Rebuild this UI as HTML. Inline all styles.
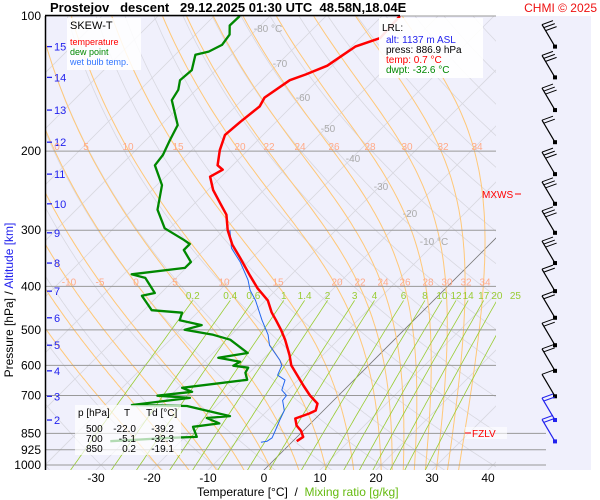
<!DOCTYPE html>
<html><head><meta charset="utf-8">
<style>
body{margin:0;background:#fff;}
svg{display:block;font-family:"Liberation Sans",sans-serif;}
</style></head>
<body>
<svg id="chart" width="600" height="500" viewBox="0 0 600 500" xmlns="http://www.w3.org/2000/svg">
<rect x="46" y="16" width="545" height="454" fill="#f0f0fc"/>
<g id="bg"></g>
<g id="series"></g>
<g id="wind"></g>
<g id="ann"></g>
<line x1="45" y1="15.5" x2="400" y2="15.5" stroke="#000" stroke-width="1.5"/>
<line x1="45.5" y1="16" x2="45.5" y2="470" stroke="#000" stroke-width="1.5"/>
<text x="50" y="12" font-size="13" font-weight="bold" fill="#000" xml:space="preserve">Prostejov   descent   29.12.2025 01:30 UTC  48.58N,18.04E</text>
<text x="597" y="12" font-size="12" fill="#ee1111" text-anchor="end">CHMI © 2025</text>
<g transform="translate(13,300) rotate(-90)">
<text x="0" y="0" font-size="12" text-anchor="middle"><tspan fill="#000">Pressure [hPa]  /  </tspan><tspan fill="#2222ee">Altitude [km]</tspan></text>
</g>
<text x="197" y="496" font-size="12" fill="#000" xml:space="preserve">Temperature [°C]  /  <tspan fill="#66bb11">Mixing ratio [g/kg]</tspan></text>
<rect x="67" y="18" width="74" height="52" fill="#fff" opacity="0.85"/>
<text x="70" y="29" font-size="11">SKEW-T</text>
<text x="70" y="45" font-size="9" fill="#ff0000">temperature</text>
<text x="70" y="55" font-size="9" fill="#008800">dew point</text>
<text x="70" y="65" font-size="9" fill="#3377ff">wet bulb temp.</text>
<rect x="379" y="18" width="104" height="60" fill="#fff" opacity="0.9"/>
<text x="382" y="31" font-size="10">LRL:</text>
<text x="386" y="43" font-size="10" fill="#2222ee">alt: 1137 m ASL</text>
<text x="386" y="53" font-size="10">press: 886.9 hPa</text>
<text x="386" y="63" font-size="10" fill="#ff0000">temp: 0.7 °C</text>
<text x="386" y="73" font-size="10" fill="#008800">dwpt: -32.6 °C</text>
<rect x="75" y="405" width="106" height="50" fill="#fff" opacity="0.7"/>
<g font-size="10" fill="#000">
<text x="78" y="416">p [hPa]</text><text x="124" y="416">T</text><text x="146" y="416">Td [°C]</text>
<text x="86" y="432">500</text><text x="136" y="432" text-anchor="end">-22.0</text><text x="174" y="432" text-anchor="end">-39.2</text>
<text x="86" y="442">700</text><text x="136" y="442" text-anchor="end">-5.1</text><text x="174" y="442" text-anchor="end">-32.3</text>
<text x="86" y="452">850</text><text x="136" y="452" text-anchor="end">0.2</text><text x="174" y="452" text-anchor="end">-19.1</text>
</g>
<rect x="465" y="427" width="42" height="12" fill="#fff" opacity="0.6"/>
<line x1="465" y1="433" x2="471" y2="433" stroke="#ff0000"/>
<text x="472" y="437" font-size="10" fill="#ff0000">FZLV</text>
<text x="482" y="198" font-size="10" fill="#ff0000">MXWS</text>
<line x1="515" y1="194" x2="521" y2="194" stroke="#ff0000"/>
</svg>
<script>
const pLevels=[100,200,300,400,500,600,700,850,925,1000];
const xTicks=[-30,-20,-10,0,10,20,30,40];
const altKm=[15,14,13,12,11,10,9,8,7,6,5,4,3,2];
const altP=[117,137,162,191,225,262,304,355,410,470,541,617,703,794];
const isoLabels=[-80,-70,-60,-50,-40,-30,-20,-10];
const mixRatios=[0.2,0.4,0.6,1,1.4,2,3,4,6,8,10,12,14,17,20,25];
const thetaW=[-20,-15,-10,-5,0,5,10,15,20,22,24,26,28,30,32,34];
const tempP=[100,112,113,117,122,129,135,139,152,159,172,184,199,215,220,228,244,261,277,300,323,346,378,404,430,457,476,500,526,570,600,622,667,700,730,756,768,788,817,839,866,885];
const tempT=[-56.8,-56.4,-57,-59.3,-60,-60.9,-63.2,-65,-66.4,-65.7,-66.4,-66.8,-65,-62.7,-61,-62,-59.1,-55.5,-52.3,-49.3,-45.9,-42.1,-37.3,-33.6,-29.6,-26.8,-24.6,-22,-19.5,-15.9,-13.8,-11.8,-7.9,-5.1,-2.3,-1.4,-2,-3.6,-2.1,-0.4,1.1,0.7];
const dewP=[100,105,110,116,120,122,132,139,146,154,175,189,204,215,238,270,297,315,322,332,353,364,376,383,414,420,436,452,458,476,488,500,513,526,563,577,589,601,607,623,646,673,687,701,709,735,739,778,786,808,822,866,870,885];
const dewT=[-85.4,-85.5,-83.9,-83.4,-84.6,-86.4,-84.3,-84.6,-83.2,-82.5,-77,-75.7,-74.3,-73.9,-69.1,-65.5,-60.9,-55.5,-53.6,-53.6,-50.2,-50.2,-58.6,-55.5,-51.1,-52.9,-50.7,-48.6,-42.7,-41.8,-37,-39.2,-33.2,-29.3,-23.8,-28.2,-23.6,-24.1,-21.1,-20.7,-19.1,-29.3,-26.8,-32.3,-26.1,-35.2,-25.2,-15.7,-19.5,-16.3,-20.4,-17.9,-22.5,-32.6];
const wbP=[300,329,353,387,408,430,476,513,541,584,600,631,647,681,700,718,756,794,839,870,885,890];
const wbT=[-48.9,-45.4,-41.4,-36.8,-34.6,-31.8,-27.1,-23.4,-21.3,-16.8,-15.5,-14.5,-12.3,-11.1,-9.3,-9.1,-7,-6.1,-5,-4.3,-4.6,-5.5];
const windP=[117,137,162,191,225,262,304,355,410,470,541,617,703,794,886];
const windKt=[45,55,55,35,40,45,45,40,35,30,25,25,20,35,25];

const NS='http://www.w3.org/2000/svg';
function Y(p){return 16+195*Math.log(p/100);}
function X(T,p){return 264+5.6*T+(470-Y(p));}
function mk(tag,attrs,parent){const e=document.createElementNS(NS,tag);for(const k in attrs)e.setAttribute(k,attrs[k]);parent.appendChild(e);return e;}
const svg=document.getElementById('chart');
const bg=document.getElementById('bg'),ser=document.getElementById('series'),ann=document.getElementById('ann'),wind=document.getElementById('wind');
const defs=mk('defs',{},svg);
const cp=mk('clipPath',{id:'clip'},defs);mk('rect',{x:46,y:16,width:450,height:454},cp);
bg.setAttribute('clip-path','url(#clip)');
function ptsStr(arr){return arr.map(a=>a[0].toFixed(1)+','+a[1].toFixed(1)).join(' ');}
const pAll=[];for(let p=1030;p>=95;p-=5)pAll.push(p);

for(let th=-40;th<=220;th+=10){
  const pts=pAll.map(p=>{const T=(th+273.15)*Math.pow(p/1000,0.286)-273.15;return [X(T,p),Y(p)];});
  const l=mk('polyline',{points:ptsStr(pts),fill:'none',stroke:'#d8d8e0','stroke-width':0.8},bg);
  
  
}
for(let T=-130;T<=40;T+=10){
  const l=mk('line',{x1:X(T,1030),y1:Y(1030),x2:X(T,95),y2:Y(95),stroke:T===0?'#777':'#d8d8e0','stroke-width':0.8},bg);
  
  
}
function es(Tc){return 6.112*Math.exp(17.67*Tc/(Tc+243.5));}
function dTdp(T,p){const e=es(T-273.15);const rs=0.622*e/(p-e);return (287*T+2.5e6*rs)/(p*(1004+2.5e6*2.5e6*rs*0.622/(287*T*T)));}
thetaW.forEach(tw=>{
  const up=[];let T=tw+273.15;
  for(let p=1000;p>=95;p-=1){if(p%5===0)up.push([X(T-273.15,p),Y(p)]);T-=dTdp(T,p)*1;}
  T=tw+273.15;const dn=[];
  for(let p=1000;p<=1030;p+=1){if(p%5===0)dn.unshift([X(T-273.15,p),Y(p)]);T+=dTdp(T,p)*1;}
  const l=mk('polyline',{points:ptsStr(dn.concat(up)),fill:'none',stroke:'#ffc878','stroke-width':1},bg);
  
  
});
function tdOf(w,p){const e=w*p/(622+w);const L=Math.log(e/6.112);return 243.5*L/(17.67-L);}
mixRatios.forEach(w=>{
  const pts=[];for(let p=1030;p>=430;p-=10)pts.push([X(tdOf(w,p),p),Y(p)]);
  const l=mk('polyline',{points:ptsStr(pts),fill:'none',stroke:'#99cc33','stroke-width':0.8},bg);
  
  
  const t=mk('text',{x:X(tdOf(w,430),430),y:Y(418)+4,'font-size':10,fill:'#99cc33','text-anchor':'middle'},ann);
  t.textContent=String(w);
  
  
});
pLevels.forEach(p=>{
  const l=mk('line',{x1:46,y1:Y(p),x2:p>=850?546:496,y2:Y(p),stroke:'#999','stroke-width':1},ser);
  
  
  const t=mk('text',{x:41,y:Y(p)+4,'font-size':12,'text-anchor':'end',fill:'#000'},ann);
  t.textContent=String(p);
  
  
});
xTicks.forEach(T=>{
  const t=mk('text',{x:264+5.6*T,y:482,'font-size':12,'text-anchor':'middle',fill:'#000'},ann);
  t.textContent=String(T);
  
  
});
altKm.forEach((k,i)=>{
  const y=Y(altP[i]);
  const l=mk('line',{x1:47,y1:y,x2:52,y2:y,stroke:'#2222ee','stroke-width':1.3},ann);
  
  
  const t=mk('text',{x:54,y:y+4,'font-size':11,fill:'#2222ee'},ann);
  t.textContent=String(k);
  
  
});
const isoLabPos=[[268,28],[280,63],[303,97],[328,128],[353,158],[381,186],[410,213],[434,241]];
isoLabels.forEach((T,i)=>{
  const t=mk('text',{x:isoLabPos[i][0],y:isoLabPos[i][1]+4,'font-size':10,fill:'#aaa','text-anchor':'middle'},ann);
  t.textContent=(T===-80||T===-10)?T+' °C':String(T);
  
  
});
const mlab200=[[0,57],[5,86],[10,128],[15,178],[20,240],[22,269],[24,300],[26,334],[28,370],[30,407],[32,443],[34,477]];
mlab200.forEach(a=>{const t=mk('text',{x:a[1],y:Y(200)-1,'font-size':10,fill:'#ffaa88','text-anchor':'middle'},ann);t.textContent=String(a[0]);
  
  });
const mlab400=[[-10,69],[-5,100],[0,136],[5,175],[10,224],[15,278],[20,337],[22,360],[24,383],[26,405],[28,428],[30,447],[32,466],[34,485]];
mlab400.forEach(a=>{const t=mk('text',{x:a[1],y:Y(400)-1,'font-size':10,fill:'#ffaa88','text-anchor':'middle'},ann);t.textContent=String(a[0]);
  
  });
function series(P,T,color,w,name){
  const pts=P.map((p,i)=>[X(T[i],p),Y(p)]);
  const l=mk('polyline',{points:ptsStr(pts),fill:'none',stroke:color,'stroke-width':w,'stroke-linejoin':'round'},ser);
  
  
}
series(dewP,dewT,'#008800',2.3,'dew-point-line');
series(wbP,wbT,'#2266ee',1,'wet-bulb-line');
series(tempP,tempT,'#ff0000',2.5,'temperature-line');
windP.forEach((p,i)=>{
  const y=Y(p),x=555;
  const col=i>=13?'#2222ee':'#000';
  const tx=x-13,ty=y-22;
  const l=mk('line',{x1:x,y1:y,x2:tx,y2:ty,stroke:col,'stroke-width':1.2},wind);
  
  
  mk('rect',{x:x-2,y:y-2,width:4,height:4,fill:col},wind);
  const n=Math.min(3,Math.max(1,Math.round(windKt[i]/15)));
  for(let k=0;k<n;k++){
    const bx=tx+k*1.8, by=ty+k*3;
    mk('line',{x1:bx,y1:by,x2:bx+11,y2:by-4,stroke:col,'stroke-width':1},wind);
  }
});
</script>
</body></html>
